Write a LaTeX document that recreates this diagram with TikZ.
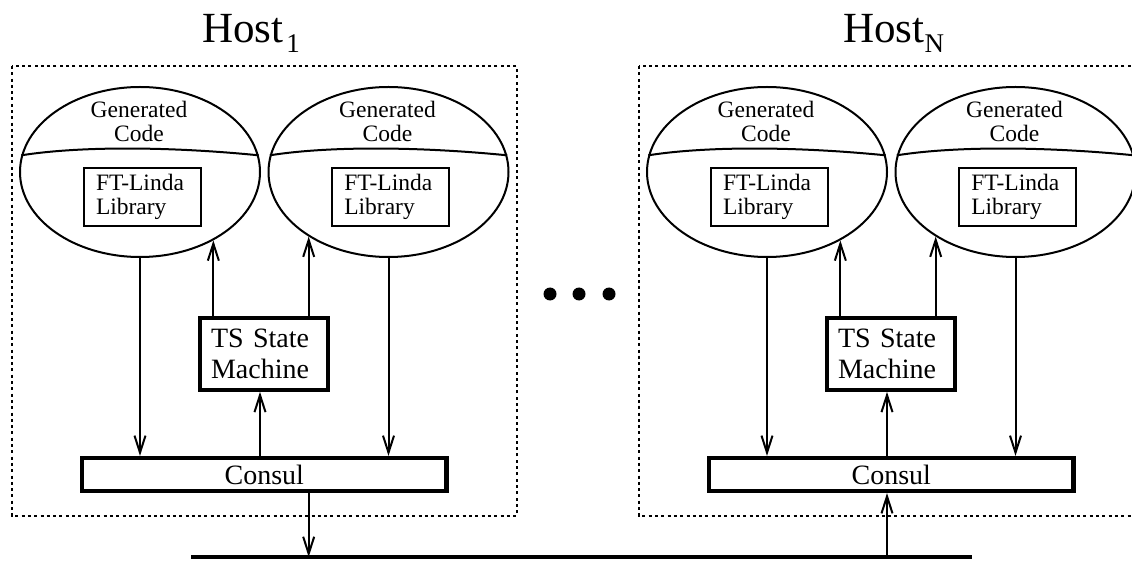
\documentclass[tikz,border=0pt]{standalone}
\usepackage{fontspec}
\setmainfont{Liberation Serif}
\usetikzlibrary{arrows.meta,calc,shapes.geometric}
\tikzset{
  ell/.style={ellipse,draw,line width=2pt,minimum width=240pt,minimum height=170pt,inner sep=0pt},
  gentext/.style={align=center,font=\fontsize{23.5}{23.5}\selectfont,inner sep=0pt},
  ftbox/.style={draw,line width=1.9pt,minimum width=117pt,minimum height=58pt,text width=93pt,inner xsep=12pt,inner ysep=0pt,align=left,font=\fontsize{23.5}{23.6}\selectfont},
  tsbox/.style={draw,line width=4.2pt,minimum width=128.5pt,minimum height=71.5pt,text width=106pt,inner xsep=11.25pt,inner ysep=0pt,align=left,font=\fontsize{28}{31}\selectfont},
  consulbox/.style={draw,line width=4.2pt,minimum width=364.5pt,minimum height=33pt,inner sep=0pt,font=\fontsize{28}{28}\selectfont},
  arr/.style={-{Straight Barb[length=17pt,width=11pt]},line width=2pt},
  hostframe/.style={line width=2pt,dash pattern=on 3pt off 3.3pt},
  divline/.style={line width=2pt},
  hostlabel/.style={anchor=base,inner sep=0pt,font=\fontsize{43}{43}\selectfont},
  dotmark/.style={circle,fill=black,inner sep=0pt,minimum size=13pt}
}
\begin{document}
\begin{tikzpicture}[x=1pt,y=-1pt]
\useasboundingbox (0,0) rectangle (1132,561);
\foreach \o/\h in {0/a,627/b}{
  \draw[hostframe] (11.8+\o,66) rectangle (516.5+\o,516);
  \node[ell] (e1\h) at (140+\o,172) {};
  \node[ell] (e2\h) at (388.5+\o,172) {};
  \draw[divline] (e1\h.172) .. controls (80+\o,146) and (170+\o,146.5) .. (e1\h.8);
  \draw[divline] (e2\h.172) .. controls (328.5+\o,146) and (418.5+\o,146.5) .. (e2\h.8);
  \node[gentext] (g1\h) at (139+\o,121.5) {Generated\\Code};
  \node[gentext] (g2\h) at (387.5+\o,121.5) {Generated\\Code};
  \node[ftbox] (f1\h) at (142.5+\o,196.6) {FT-Linda\\Library};
  \node[ftbox] (f2\h) at (390.8+\o,196.6) {FT-Linda\\Library};
  \node[tsbox] (ts\h) at (264+\o,354) {TS State\\Machine};
  \node[consulbox] (c\h) at (264.3+\o,474.5) {Consul};
  \coordinate (tsin\h) at ($(ts\h.south)+(-4,0)$);
  \draw[arr] (e1\h.south) -- (e1\h.south |- c\h.north);
  \draw[arr] (e2\h.south) -- (e2\h.south |- c\h.north);
  \draw[arr] (ts\h.north -| e1\h.-43) -- (e1\h.-43);
  \draw[arr] (ts\h.north -| e2\h.-141.6) -- (e2\h.-141.6);
  \draw[arr] (tsin\h |- c\h.north) -- (tsin\h);
}
\coordinate (busL) at (191,557);
\coordinate (busR) at (972,557);
\draw[line width=4pt] (busL) -- (busR);
\draw[arr] (e2a.-141.6 |- ca.south) -- (e2a.-141.6 |- busL);
\draw[arr] (tsinb |- busL) -- (tsinb |- cb.south);
\node[hostlabel] (h1) at (251,42.3) {Host\kern3pt\raisebox{-10pt}{\fontsize{27}{27}\selectfont 1}};
\node[hostlabel] (hN) at (893.8,42.3) {Host\raisebox{-10pt}{\fontsize{27}{27}\selectfont N}};
\node[dotmark] (d1) at (550,294) {};
\node[dotmark] (d2) at (579,294) {};
\node[dotmark] (d3) at (609,294) {};
\end{tikzpicture}
\end{document}
